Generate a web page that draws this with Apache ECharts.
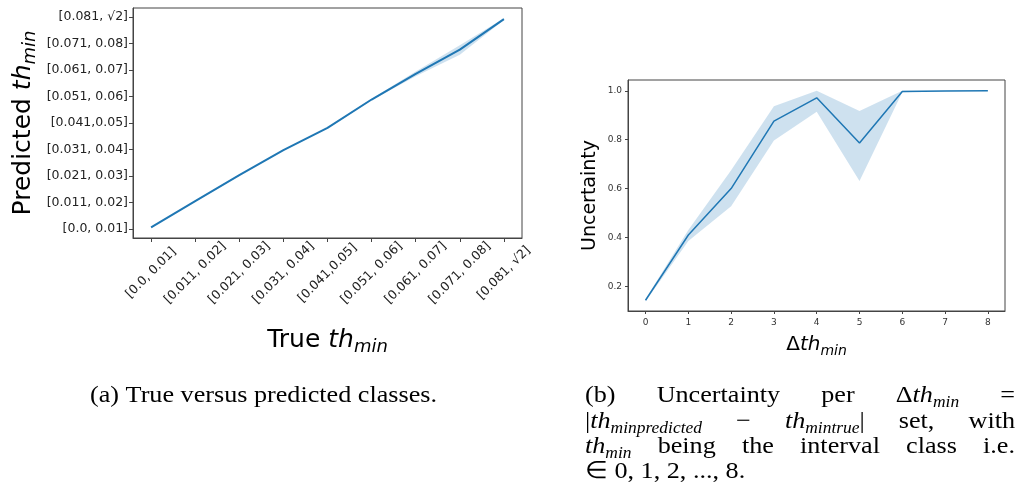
<!DOCTYPE html>
<html><head><meta charset="utf-8">
<script src="https://cdn.jsdelivr.net/npm/echarts@6/dist/echarts.min.js"></script>
<style>html,body{margin:0;padding:0;background:#fff}#c{width:1020px;height:499px}</style>
</head><body><div id="c"></div>
<script>
// ---------- data ----------
const trueClasses = ['[0.0, 0.01]','[0.011, 0.02]','[0.021, 0.03]','[0.031, 0.04]','[0.041,0.05]','[0.051, 0.06]','[0.061, 0.07]','[0.071, 0.08]','[0.081, √2]'];
const predClasses = ['[0.0, 0.01]','[0.011, 0.02]','[0.021, 0.03]','[0.031, 0.04]','[0.041,0.05]','[0.051, 0.06]','[0.061, 0.07]','[0.071, 0.08]','[0.081, √2]'];
const predMean = [0.07, 1.06, 2.04, 2.98, 3.82, 4.89, 5.86, 6.77, 7.92];
const predLow  = [0.05, 1.04, 2.02, 2.96, 3.80, 4.86, 5.77, 6.58, 7.89];
const predHigh = [0.09, 1.08, 2.06, 3.00, 3.84, 4.92, 5.95, 6.94, 7.95];

const deltaClasses = [0, 1, 2, 3, 4, 5, 6, 7, 8];
const uncMean = [0.143, 0.41, 0.60, 0.876, 0.971, 0.786, 0.997, 0.999, 1.0];
const uncLow  = [0.138, 0.385, 0.528, 0.797, 0.914, 0.631, 0.994, 0.998, 1.0];
const uncHigh = [0.148, 0.43, 0.675, 0.937, 1.0, 0.917, 1.0, 1.0, 1.0];
const uncTicks = [0.2, 0.4, 0.6, 0.8, 1.0];

// ---------- helpers ----------
const BLUE = '#1f77b4';
const BAND = 'rgba(31,119,180,0.22)';
const SANS = '"DejaVu Sans", sans-serif';
const SERIF = '"Liberation Serif", serif';
const idx = deltaClasses;

function pairs(xs, ys){ return xs.map((x,i)=>[x, ys[i]]); }

function mathRich(base, sub, lh){
  return {
    i: {fontFamily: SANS, fontStyle:'italic', fontSize: base, lineHeight: lh, color:'#000'},
    s: {fontFamily: SANS, fontStyle:'italic', fontSize: sub, lineHeight: sub, verticalAlign:'bottom', color:'#000'}
  };
}

// band polygon drawn through the axes' own scales
function bandSeries(ax, lo, hi){
  return {
    type:'custom', xAxisIndex: ax, yAxisIndex: ax, silent: true, z: 1,
    data: idx.map((x,i)=>[x, lo[i], hi[i]]),
    renderItem: function(params, api){
      if (params.dataIndex !== 0) return null;
      const pts = [];
      for (let i = 0; i < idx.length; i++) pts.push(api.coord([idx[i], hi[i]]));
      for (let i = idx.length - 1; i >= 0; i--) pts.push(api.coord([idx[i], lo[i]]));
      return {type:'polygon', shape:{points: pts}, style:{fill: BAND, stroke: null}};
    }
  };
}

const chart = echarts.init(document.getElementById('c'), null, {renderer:'canvas'});

// ---------- caption layout ----------
const capSize = 24, capSub = 16, capLH = 29, capScale = 1.09;
const capRich = {
  r: {fontFamily: SERIF, fontSize: capSize, lineHeight: capLH, color:'#000'},
  i: {fontFamily: SERIF, fontStyle:'italic', fontSize: capSize, lineHeight: capLH, color:'#000'},
  s: {fontFamily: SERIF, fontStyle:'italic', fontSize: capSub, lineHeight: capSub, verticalAlign:'bottom', color:'#000'}
};
const cvs = document.createElement('canvas').getContext('2d');
function fontOf(k){ const st = capRich[k]; return (st.fontStyle||'normal') + ' ' + st.fontSize + 'px ' + st.fontFamily; }
function measure(word){ let w = 0; for (const [k,t] of word){ cvs.font = fontOf(k); w += cvs.measureText(t).width; } return w * capScale; }
function richStr(word){ return word.map(([k,t]) => '{' + k + '|' + t + '}').join(''); }

const capLines = [
  [[['r','(b)']], [['r','Uncertainty']], [['r','per']], [['r','Δ'],['i','th'],['s','min']], [['r','=']]],
  [[['r','|'],['i','th'],['s','min'],['s','predicted']], [['r','−']], [['i','th'],['s','min'],['s','true'],['r','|']], [['r','set,']], [['r','with']]],
  [[['i','th'],['s','min']], [['r','being']], [['r','the']], [['r','interval']], [['r','class']], [['r','i.e.']]],
  [[['r','∈ 0, 1, 2, ..., 8.']]]
];
const capLeft = 585, capRight = 1015, capY = [396, 422, 447, 472];
const graphics = [];
capLines.forEach((words, li) => {
  const widths = words.map(measure);
  const total = widths.reduce((a,b)=>a+b, 0);
  const justify = li < capLines.length - 1 && words.length > 1;
  const gap = justify ? (capRight - capLeft - total) / (words.length - 1) : 0;
  let x = capLeft;
  words.forEach((w, wi) => {
    graphics.push({type:'text', x: x, y: capY[li], scaleX: capScale, style:{text: richStr(w), rich: capRich, align:'left', verticalAlign:'middle', fill:'#000', font: capSize + 'px ' + SERIF}});
    x += widths[wi] + gap;
  });
});
graphics.push({type:'text', x: 90, y: capY[0], scaleX: capScale, style:{text:'(a) True versus predicted classes.', align:'left', verticalAlign:'middle', fill:'#000', font: capSize + 'px ' + SERIF}});

// ---------- option ----------
const axisCol = '#444';
const option = {
  animation: false,
  backgroundColor: '#fff',
  grid: [
    {left: 133, top: 8, width: 389, height: 230, show: true, borderColor: axisCol, borderWidth: 1, backgroundColor: 'transparent'},
    {left: 628, top: 80, width: 377, height: 231, show: true, borderColor: axisCol, borderWidth: 1, backgroundColor: 'transparent'}
  ],
  xAxis: [
    {gridIndex: 0, type:'value', min: -0.41, max: 8.41,
     axisLine:{show:true, onZero:false, lineStyle:{color:axisCol}},
     axisTick:{show:true, customValues: idx, length:4, lineStyle:{color:axisCol}},
     axisLabel:{customValues: idx, formatter: v => trueClasses[Math.round(v)], rotate:45, align:'center', verticalAlign:'middle', margin:35, fontSize:12.5, fontFamily:SANS, color:'#222'},
     splitLine:{show:false},
     name: 'True {i|th}{s|min}', nameLocation:'middle', nameGap: 86,
     nameTextStyle:{fontSize:25, fontFamily:SANS, color:'#000', lineHeight:32, rich: mathRich(25, 18, 32)}},
    {gridIndex: 1, type:'value', min: -0.41, max: 8.4,
     axisLine:{show:true, onZero:false, lineStyle:{color:axisCol}},
     axisTick:{show:true, customValues: idx, length:3, lineStyle:{color:axisCol}},
     axisLabel:{customValues: idx, formatter: v => String(deltaClasses[Math.round(v)]), margin:7, fontSize:9, fontFamily:SANS, color:'#333'},
     splitLine:{show:false},
     name: 'Δ{i|th}{s|min}', nameLocation:'middle', nameGap: 21,
     nameTextStyle:{fontSize:20, fontFamily:SANS, color:'#000', lineHeight:26, rich: mathRich(20, 14, 26)}}
  ],
  yAxis: [
    {gridIndex: 0, type:'value', min: -0.33, max: 8.34,
     axisLine:{show:true, onZero:false, lineStyle:{color:axisCol}},
     axisTick:{show:true, customValues: idx, length:4, lineStyle:{color:axisCol}},
     axisLabel:{customValues: idx, formatter: v => predClasses[Math.round(v)], margin:5, fontSize:12.5, fontFamily:SANS, color:'#222'},
     splitLine:{show:false},
     name: 'Predicted {i|th}{s|min}', nameLocation:'middle', nameGap: 94, nameRotate: 90,
     nameTextStyle:{fontSize:25, fontFamily:SANS, color:'#000', lineHeight:32, rich: mathRich(25, 18, 32)}},
    {gridIndex: 1, type:'value', min: 0.099, max: 1.044,
     axisLine:{show:true, onZero:false, lineStyle:{color:axisCol}},
     axisTick:{show:true, customValues: uncTicks, length:3, lineStyle:{color:axisCol}},
     axisLabel:{customValues: uncTicks, formatter: v => v.toFixed(1), margin:6, fontSize:9, fontFamily:SANS, color:'#333'},
     splitLine:{show:false},
     name: 'Uncertainty', nameLocation:'middle', nameGap: 28, nameRotate: 90,
     nameTextStyle:{fontSize:19, fontFamily:SANS, color:'#000'}}
  ],
  series: [
    bandSeries(0, predLow, predHigh),
    {type:'line', xAxisIndex:0, yAxisIndex:0, data: pairs(idx, predMean), symbol:'none', lineStyle:{color:BLUE, width:2}, z: 2},
    bandSeries(1, uncLow, uncHigh),
    {type:'line', xAxisIndex:1, yAxisIndex:1, data: pairs(idx, uncMean), symbol:'none', lineStyle:{color:BLUE, width:1.5}, z: 2}
  ],
  graphic: graphics
};
chart.setOption(option);
</script>
</body></html>
